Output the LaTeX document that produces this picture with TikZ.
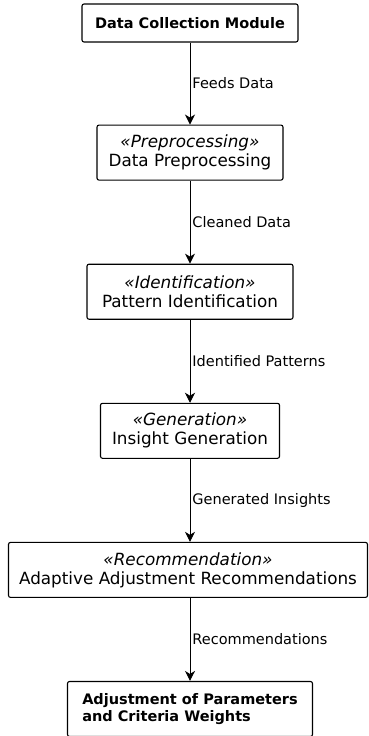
\documentclass[tikz,border=0pt]{standalone}
\usepackage{fontspec}
\setmainfont{DejaVu Sans}
\usetikzlibrary{positioning,arrows.meta}
\newcommand{\stereo}[1]{\textit{«#1»}}
\tikzset{
    every node/.style={font=\fontsize{16.8pt}{19pt}\selectfont},
    module/.style={rounded corners=2pt,draw=black,line width=1.1pt,fill=white,align=center,minimum height=55pt,inner sep=3pt},
    keymodule/.style={module,font=\fontsize{14.5pt}{17pt}\selectfont\bfseries},
    flowlabel/.style={right,inner sep=2pt,font=\fontsize{14.5pt}{17pt}\selectfont},
    flow/.style={draw,line width=0.9pt,-{Stealth[length=10pt,width=10pt,inset=3pt]}}
}

\begin{document}
\begin{tikzpicture}[x=1pt,y=-1pt,node distance=83pt]
\useasboundingbox (0,0) rectangle (369,736);
\node[keymodule,minimum width=216pt,minimum height=38pt] (collect) at (190,23) {Data Collection Module};
\node[module,minimum width=186pt,below=82pt of collect] (preproc) {\stereo{Preprocessing}\\Data Preprocessing};
\node[module,minimum width=206pt,below=of preproc] (pattern) {\stereo{Identification}\\Pattern Identification};
\node[module,minimum width=179pt,below=of pattern] (insight) {\stereo{Generation}\\Insight Generation};
\node[module,minimum width=359pt,below=of insight,xshift=-2pt] (recommend) {\stereo{Recommendation}\\Adaptive Adjustment Recommendations};
\node[keymodule,minimum width=245pt,minimum height=55pt,below=of recommend,xshift=2pt,align=left] (adjust) {Adjustment of Parameters\\and Criteria Weights};

% data flow between the modules
\draw[flow] (collect) -- node[flowlabel] {Feeds Data} (preproc);
\draw[flow] (preproc) -- node[flowlabel] {Cleaned Data} (pattern);
\draw[flow] (pattern) -- node[flowlabel] {Identified Patterns} (insight);
\draw[flow] (insight) -- node[flowlabel] {Generated Insights} (insight |- recommend.north);
\draw[flow] (insight |- recommend.south) -- node[flowlabel] {Recommendations} (adjust);
\end{tikzpicture}
\end{document}
